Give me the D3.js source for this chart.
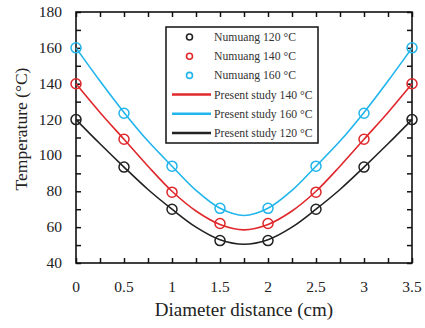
<!DOCTYPE html>
<html><head><meta charset="utf-8">
<script src="https://cdn.jsdelivr.net/npm/d3@7"></script>
<style>body{margin:0;background:#fff}svg{display:block}</style>
</head><body><svg id="c" width="425" height="328"></svg>
<script>
const xPoints = [0, 0.5, 1, 1.5, 2, 2.5, 3, 3.5];
const exp120 = [120, 93.5, 70, 52.5, 52.5, 70, 93.5, 120];
const exp140 = [140, 109, 79.5, 62, 62, 79.5, 109, 140];
const exp160 = [160, 123.5, 94, 70.5, 70.5, 94, 123.5, 160];
const xCurve = [0, 0.25, 0.5, 0.75, 1, 1.25, 1.5, 1.75, 2, 2.25, 2.5, 2.75, 3, 3.25, 3.5];
const sim120 = [120, 106.5, 93.5, 81, 70, 60, 53, 50.5, 53, 60, 70, 81, 93.5, 106.5, 120];
const sim140 = [140, 124, 109, 94, 80, 69, 61.5, 58.5, 61.5, 69, 80, 94, 109, 124, 140];
const sim160 = [160, 141.5, 124, 108, 94, 80.5, 70.5, 66.5, 70.5, 80.5, 94, 108, 124, 141.5, 160];
const xTicks = [0, 0.5, 1, 1.5, 2, 2.5, 3, 3.5];
const yTicks = [40, 60, 80, 100, 120, 140, 160, 180];
const colors = {c120: "#222222", c140: "#e0282c", c160: "#21b5ec"};

const svg = d3.select("#c");
const L = 76, R = 412, T = 12, B = 263;
const x = d3.scaleLinear().domain([0, 3.5]).range([L, R]);
const y = d3.scaleLinear().domain([40, 180]).range([B, T]);
const font = "'Liberation Serif','Times New Roman',serif";

const minorX = d3.range(0, 3.5001, 0.25);
const minorY = d3.range(40, 180.001, 10);
const tk = 5;
svg.append("g").attr("transform", `translate(0,${B})`)
  .call(d3.axisBottom(x).tickValues(minorX).tickSize(-tk).tickFormat(""));
svg.append("g").attr("transform", `translate(0,${T})`)
  .call(d3.axisTop(x).tickValues(minorX).tickSize(-tk).tickFormat(""));
svg.append("g").attr("transform", `translate(${L},0)`)
  .call(d3.axisLeft(y).tickValues(minorY).tickSize(-tk).tickFormat(""));
svg.append("g").attr("transform", `translate(${R},0)`)
  .call(d3.axisRight(y).tickValues(minorY).tickSize(-tk).tickFormat(""));
svg.selectAll(".domain").remove();
svg.selectAll(".tick line").attr("stroke", "#111").attr("stroke-width", 1.5);
svg.append("rect").attr("x", L).attr("y", T).attr("width", R - L).attr("height", B - T)
  .attr("fill", "none").attr("stroke", "#111").attr("stroke-width", 1.6);

svg.append("g").selectAll("text").data(xTicks).join("text")
  .attr("x", d => x(d)).attr("y", 292).attr("text-anchor", "middle")
  .attr("font-family", font).attr("font-size", 15.5).attr("fill", "#222")
  .text(d => d);
svg.append("g").selectAll("text").data(yTicks).join("text")
  .attr("x", 62).attr("y", d => y(d) + 5).attr("text-anchor", "end")
  .attr("font-family", font).attr("font-size", 15.5).attr("fill", "#222")
  .text(d => d);
svg.append("text").attr("x", (L + R) / 2).attr("y", 316).attr("text-anchor", "middle")
  .attr("font-family", font).attr("font-size", 19).attr("fill", "#222")
  .text("Diameter distance (cm)");
svg.append("text").attr("transform", "translate(27,129) rotate(-90)").attr("text-anchor", "middle")
  .attr("font-family", font).attr("font-size", 17.5).attr("fill", "#222")
  .text("Temperature (°C)");

const line = d3.line().x(d => x(d[0])).y(d => y(d[1])).curve(d3.curveCatmullRom.alpha(0.5));
const sims = [[sim120, colors.c120], [sim140, colors.c140], [sim160, colors.c160]];
sims.forEach(([vals, col]) => {
  svg.append("path").datum(xCurve.map((d, i) => [d, vals[i]]))
    .attr("d", line).attr("fill", "none").attr("stroke", col).attr("stroke-width", 1.6);
});
const exps = [[exp120, colors.c120], [exp140, colors.c140], [exp160, colors.c160]];
exps.forEach(([vals, col]) => {
  svg.append("g").selectAll("circle").data(xPoints.map((d, i) => [d, vals[i]])).join("circle")
    .attr("cx", d => x(d[0])).attr("cy", d => y(d[1])).attr("r", 5)
    .attr("fill", "none").attr("stroke", col).attr("stroke-width", 1.5);
});

const lg = svg.append("g");
lg.append("rect").attr("x", 166).attr("y", 27).attr("width", 152).attr("height", 116)
  .attr("fill", "#fff").attr("stroke", "#111").attr("stroke-width", 1.5);
const legendItems = [
  {type: "c", col: colors.c120, label: "Numuang 120 °C"},
  {type: "c", col: colors.c140, label: "Numuang 140 °C"},
  {type: "c", col: colors.c160, label: "Numuang 160 °C"},
  {type: "l", col: colors.c140, label: "Present study 140 °C"},
  {type: "l", col: colors.c160, label: "Present study 160 °C"},
  {type: "l", col: colors.c120, label: "Present study 120 °C"}
];
legendItems.forEach((it, i) => {
  const yy = 37 + i * 19.2;
  if (it.type === "c") {
    lg.append("circle").attr("cx", 189.5).attr("cy", yy).attr("r", 3)
      .attr("fill", "none").attr("stroke", it.col).attr("stroke-width", 1.6);
  } else {
    lg.append("line").attr("x1", 172).attr("x2", 211).attr("y1", yy).attr("y2", yy)
      .attr("stroke", it.col).attr("stroke-width", 2.5);
  }
  lg.append("text").attr("x", 214).attr("y", yy + 4).attr("font-family", font)
    .attr("font-size", 11.7).attr("fill", "#333").text(it.label);
});
</script></body></html>
